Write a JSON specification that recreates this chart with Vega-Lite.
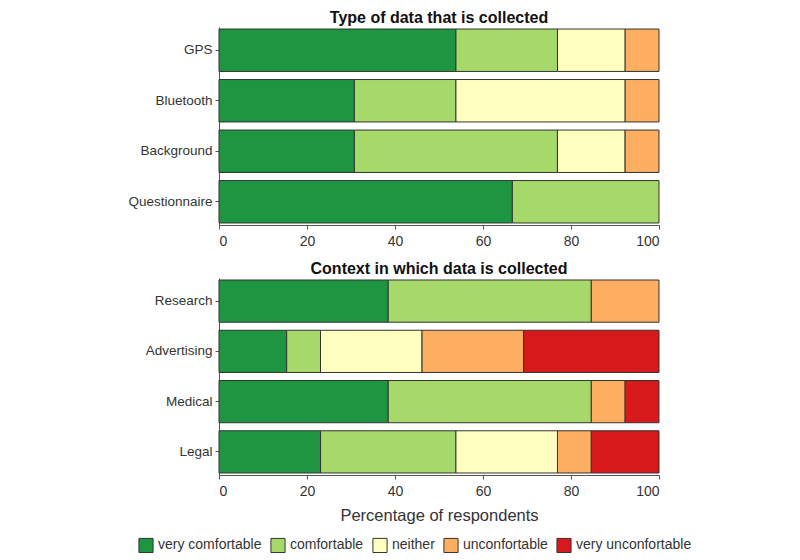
{
  "$schema": "https://vega.github.io/schema/vega-lite/v6.json",
  "padding": {"left": 127, "top": 10, "right": 5, "bottom": 5},
  "config": {
    "font": "Liberation Sans",
    "view": {"stroke": null},
    "axis": {"labelFont": "Liberation Sans", "labelFontSize": 13.5, "labelColor": "#333", "domainColor": "#555", "tickColor": "#555", "grid": false, "titleFont": "Liberation Sans", "titleFontWeight": "normal", "titleColor": "#333"},
    "title": {"fontSize": 16, "font": "Liberation Sans", "fontWeight": "bold", "color": "#111", "offset": 1},
    "legend": {"orient": "none", "legendX": -81, "legendY": 510, "direction": "horizontal", "title": null, "labelFontSize": 14, "labelColor": "#333", "symbolType": "square", "symbolSize": 200, "symbolStrokeColor": "#333", "symbolStrokeWidth": 1, "symbolOpacity": 1, "columnPadding": 6, "labelLimit": 200}
  },
  "datasets": {
    "rows": [
      {"panel": "type", "item": "GPS", "level": "very comfortable", "pct": 53.85},
      {"panel": "type", "item": "GPS", "level": "comfortable", "pct": 23.08},
      {"panel": "type", "item": "GPS", "level": "neither", "pct": 15.38},
      {"panel": "type", "item": "GPS", "level": "unconfortable", "pct": 7.69},
      {"panel": "type", "item": "Bluetooth", "level": "very comfortable", "pct": 30.77},
      {"panel": "type", "item": "Bluetooth", "level": "comfortable", "pct": 23.08},
      {"panel": "type", "item": "Bluetooth", "level": "neither", "pct": 38.46},
      {"panel": "type", "item": "Bluetooth", "level": "unconfortable", "pct": 7.69},
      {"panel": "type", "item": "Background", "level": "very comfortable", "pct": 30.77},
      {"panel": "type", "item": "Background", "level": "comfortable", "pct": 46.15},
      {"panel": "type", "item": "Background", "level": "neither", "pct": 15.38},
      {"panel": "type", "item": "Background", "level": "unconfortable", "pct": 7.69},
      {"panel": "type", "item": "Questionnaire", "level": "very comfortable", "pct": 66.67},
      {"panel": "type", "item": "Questionnaire", "level": "comfortable", "pct": 33.33},
      {"panel": "context", "item": "Research", "level": "very comfortable", "pct": 38.46},
      {"panel": "context", "item": "Research", "level": "comfortable", "pct": 46.15},
      {"panel": "context", "item": "Research", "level": "unconfortable", "pct": 15.38},
      {"panel": "context", "item": "Advertising", "level": "very comfortable", "pct": 15.38},
      {"panel": "context", "item": "Advertising", "level": "comfortable", "pct": 7.69},
      {"panel": "context", "item": "Advertising", "level": "neither", "pct": 23.08},
      {"panel": "context", "item": "Advertising", "level": "unconfortable", "pct": 23.08},
      {"panel": "context", "item": "Advertising", "level": "very unconfortable", "pct": 30.77},
      {"panel": "context", "item": "Medical", "level": "very comfortable", "pct": 38.46},
      {"panel": "context", "item": "Medical", "level": "comfortable", "pct": 46.15},
      {"panel": "context", "item": "Medical", "level": "unconfortable", "pct": 7.69},
      {"panel": "context", "item": "Medical", "level": "very unconfortable", "pct": 7.69},
      {"panel": "context", "item": "Legal", "level": "very comfortable", "pct": 23.08},
      {"panel": "context", "item": "Legal", "level": "comfortable", "pct": 30.77},
      {"panel": "context", "item": "Legal", "level": "neither", "pct": 23.08},
      {"panel": "context", "item": "Legal", "level": "unconfortable", "pct": 7.69},
      {"panel": "context", "item": "Legal", "level": "very unconfortable", "pct": 15.38}
    ]
  },
  "spacing": 13,
  "resolve": {"scale": {"color": "shared"}},
  "vconcat": [
    {
      "title": "Type of data that is collected",
      "width": 440,
      "height": 198,
      "data": {"name": "rows"},
      "transform": [
        {"filter": "datum.panel === 'type'"},
        {"calculate": "indexof(['very comfortable','comfortable','neither','unconfortable','very unconfortable'], datum.level)", "as": "levelOrder"}
      ],
      "mark": {"type": "bar", "stroke": "#333", "strokeWidth": 1},
      "encoding": {
        "y": {"field": "item", "type": "nominal", "sort": ["GPS", "Bluetooth", "Background", "Questionnaire"], "scale": {"paddingInner": 0.16, "paddingOuter": 0.04}, "axis": {"title": null, "tickSize": 4, "labelPadding": 3}},
        "x": {"field": "pct", "type": "quantitative", "stack": "zero", "scale": {"domain": [0, 100], "nice": false}, "axis": {"title": null, "values": [0, 20, 40, 60, 80, 100], "tickSize": 4, "labelFontSize": 14, "labelPadding": 5}},
        "color": {"field": "level", "type": "nominal", "sort": ["very comfortable", "comfortable", "neither", "unconfortable", "very unconfortable"], "scale": {"domain": ["very comfortable", "comfortable", "neither", "unconfortable", "very unconfortable"], "range": ["#1e9641", "#a6d96a", "#ffffbf", "#fdae61", "#d7191c"]}},
        "order": {"field": "levelOrder", "type": "quantitative", "sort": "ascending"}
      }
    },
    {
      "title": "Context in which data is collected",
      "width": 440,
      "height": 197,
      "data": {"name": "rows"},
      "transform": [
        {"filter": "datum.panel === 'context'"},
        {"calculate": "indexof(['very comfortable','comfortable','neither','unconfortable','very unconfortable'], datum.level)", "as": "levelOrder"}
      ],
      "mark": {"type": "bar", "stroke": "#333", "strokeWidth": 1},
      "encoding": {
        "y": {"field": "item", "type": "nominal", "sort": ["Research", "Advertising", "Medical", "Legal"], "scale": {"paddingInner": 0.16, "paddingOuter": 0.04}, "axis": {"title": null, "tickSize": 4, "labelPadding": 3}},
        "x": {"field": "pct", "type": "quantitative", "stack": "zero", "scale": {"domain": [0, 100], "nice": false}, "axis": {"title": "Percentage of respondents", "titleFontSize": 16.5, "titlePadding": 9, "values": [0, 20, 40, 60, 80, 100], "tickSize": 4, "labelFontSize": 14, "labelPadding": 5}},
        "color": {"field": "level", "type": "nominal", "sort": ["very comfortable", "comfortable", "neither", "unconfortable", "very unconfortable"], "scale": {"domain": ["very comfortable", "comfortable", "neither", "unconfortable", "very unconfortable"], "range": ["#1e9641", "#a6d96a", "#ffffbf", "#fdae61", "#d7191c"]}},
        "order": {"field": "levelOrder", "type": "quantitative", "sort": "ascending"}
      }
    }
  ]
}
